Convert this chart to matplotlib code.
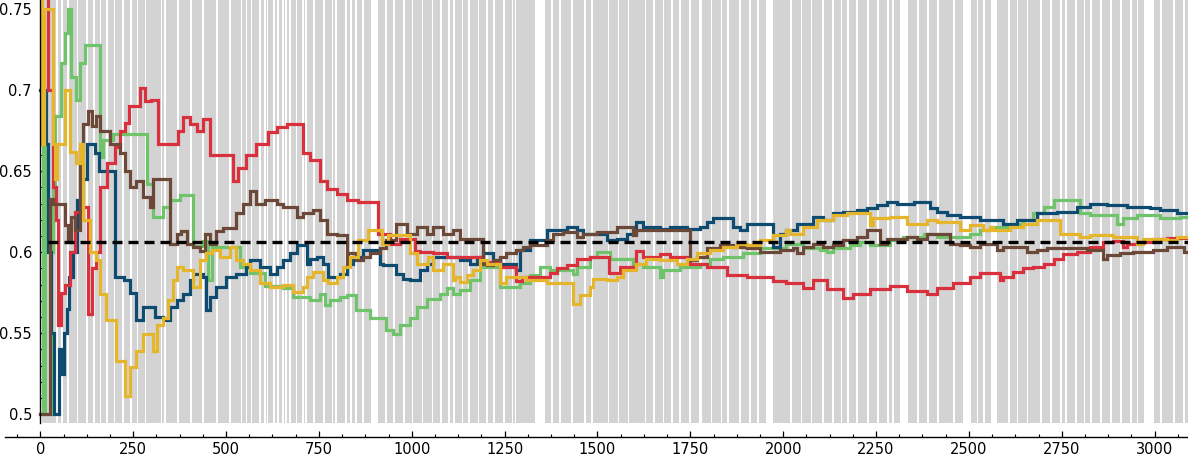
import matplotlib

matplotlib.use("Agg")
import matplotlib.pyplot as plt
from matplotlib.ticker import MultipleLocator, FixedLocator

# ---- data (step series, value holds until next x) ----
red_x = [0, 20, 34, 42, 47, 55, 66, 80, 93, 110, 128, 139, 150, 160, 179, 201, 215, 228, 240, 268, 281, 299,
         317, 371, 385, 403, 421, 439, 457, 519, 533, 555, 582, 614, 636, 663, 708, 726, 753, 771, 798, 825,
         856, 910, 941, 968, 1009, 1022, 1058, 1094, 1193, 1237, 1282, 1296, 1372, 1390, 1417, 1444, 1480,
         1530, 1561, 1605, 1623, 1668, 1695, 1749, 1794, 1848, 1902, 1973, 2009, 2054, 2081, 2117, 2162, 2189,
         2234, 2288, 2333, 2387, 2413, 2458, 2503, 2530, 2584, 2593, 2620, 2647, 2674, 2701, 2728, 2754, 2790,
         2826, 2862, 2889, 2916, 2925, 2961, 2997, 3033, 3090]
red_y = [0.80, 0.70, 0.64, 0.62, 0.555, 0.575, 0.58, 0.60, 0.625, 0.628, 0.562, 0.59, 0.60, 0.64, 0.655, 0.665,
         0.675, 0.68, 0.69, 0.701, 0.693, 0.694,
         0.667, 0.675, 0.6835, 0.679, 0.675, 0.682, 0.660, 0.644, 0.652, 0.660, 0.667, 0.674, 0.677, 0.679,
         0.661, 0.657, 0.644, 0.639, 0.636, 0.632, 0.631, 0.611, 0.605, 0.608, 0.601, 0.600, 0.5995, 0.597,
         0.594, 0.591, 0.582, 0.585, 0.587, 0.590, 0.592, 0.596, 0.597, 0.587, 0.591, 0.601, 0.597, 0.599,
         0.597, 0.593, 0.591, 0.586, 0.585, 0.582, 0.581, 0.578, 0.583, 0.577, 0.572, 0.5745, 0.577, 0.579,
         0.576, 0.574, 0.578, 0.581, 0.585, 0.587, 0.583, 0.585, 0.588, 0.590, 0.591, 0.593, 0.596, 0.599,
         0.600, 0.603, 0.606, 0.607, 0.603, 0.605, 0.606, 0.608, 0.609, 0.609]

green_x = [0, 6, 12, 26, 30, 35, 40, 57, 66, 75, 84, 97, 106, 120, 160, 169, 196, 286, 304, 331, 349, 376,
           412, 439, 452, 461, 537, 564, 605, 654, 681, 726, 753, 766, 780, 807, 826, 851, 887, 932, 950,
           968, 995, 1013, 1040, 1076, 1094, 1112, 1130, 1157, 1184, 1237, 1291, 1318, 1345, 1372, 1435, 1444,
           1480, 1498, 1534, 1596, 1623, 1668, 1677, 1722, 1776, 1803, 1839, 1893, 1937, 2009, 2054, 2099,
           2117, 2135, 2180, 2207, 2234, 2288, 2324, 2378, 2413, 2503, 2530, 2557, 2611, 2647, 2674, 2701,
           2728, 2799, 2826, 2898, 2916, 2952, 3015, 3069, 3090]
green_y = [0.50, 0.667, 0.50, 0.50, 0.60, 0.64, 0.684, 0.717, 0.735, 0.75, 0.708, 0.694, 0.717, 0.728, 0.659,
           0.669, 0.673, 0.642, 0.622, 0.628, 0.632, 0.635, 0.604, 0.607, 0.583, 0.603, 0.591, 0.587, 0.579,
           0.5776, 0.5724, 0.5704, 0.574, 0.5673, 0.5704, 0.5724, 0.5735, 0.5642, 0.5591, 0.5519, 0.5498,
           0.5549, 0.5591, 0.5663, 0.5714, 0.5745, 0.5776, 0.5745, 0.5765, 0.5827, 0.5909, 0.5786, 0.5807,
           0.5858, 0.5909, 0.5889, 0.5868, 0.5909, 0.5971, 0.6002, 0.5961, 0.5930, 0.5909, 0.5848, 0.5889,
           0.5909, 0.5930, 0.5961, 0.5971, 0.5992, 0.6023, 0.6053, 0.6023, 0.6012, 0.6002, 0.6023, 0.6043,
           0.6064, 0.6043, 0.6074, 0.6095, 0.6115, 0.6095, 0.6115, 0.6136, 0.6156, 0.6177, 0.6198, 0.6239,
           0.6280, 0.6321, 0.6239, 0.6228, 0.6177, 0.6208, 0.6228, 0.6208, 0.6218, 0.6218]

blue_x = [0, 15, 22, 30, 38, 50, 57, 65, 72, 78, 88, 100, 112, 125, 148, 158, 201, 225, 241, 259, 277, 308,
          331, 349, 367, 385, 403, 412, 439, 447, 457, 474, 501, 528, 555, 564, 591, 618, 636, 654, 672, 690,
          717, 726, 744, 762, 775, 807, 825, 842, 869, 914, 923, 959, 977, 995, 1022, 1040, 1058, 1130, 1157,
          1175, 1193, 1220, 1237, 1282, 1291, 1318, 1363, 1417, 1444, 1462, 1525, 1552, 1579, 1605, 1623,
          1668, 1695, 1740, 1776, 1794, 1812, 1866, 1884, 1902, 1973, 1991, 2009, 2036, 2081, 2108, 2135,
          2162, 2198, 2225, 2252, 2279, 2306, 2351, 2395, 2413, 2440, 2476, 2530, 2593, 2629, 2683, 2737,
          2790, 2826, 2871, 2925, 2988, 3015, 3060, 3090]
blue_y = [0.70, 0.667, 0.60, 0.55, 0.50, 0.54, 0.525, 0.55, 0.565, 0.585, 0.60, 0.632, 0.645, 0.667, 0.661,
          0.650, 0.585, 0.583, 0.575, 0.558, 0.566, 0.560, 0.558, 0.5663, 0.5704, 0.5745, 0.5827, 0.5868,
          0.5848, 0.5642, 0.5724, 0.5786, 0.5848, 0.5868, 0.5909, 0.5951, 0.5909, 0.5868, 0.5909, 0.5951,
          0.5992, 0.6043, 0.5930, 0.5961, 0.5971, 0.5930, 0.5848, 0.5868, 0.5930, 0.5971, 0.6012, 0.5930,
          0.5920, 0.5868, 0.5837, 0.5827, 0.5889, 0.5930, 0.5971, 0.5951, 0.5930, 0.5971, 0.5992, 0.5951,
          0.5930, 0.5889, 0.6012, 0.6074, 0.6136, 0.6156, 0.6136, 0.6115, 0.6074, 0.6084, 0.6115, 0.6187,
          0.6156, 0.6146, 0.6156, 0.6146, 0.6156, 0.6187, 0.6208, 0.6156, 0.6136, 0.6177, 0.6033, 0.6115,
          0.6136, 0.6177, 0.6218, 0.6198, 0.6239, 0.6249, 0.6259, 0.6270, 0.6290, 0.6310, 0.6300, 0.6310,
          0.6270, 0.6249, 0.6228, 0.6218, 0.6198, 0.6177, 0.6198, 0.6239, 0.6249, 0.6280, 0.6300, 0.6290,
          0.6280, 0.6270, 0.6259, 0.6239, 0.6239]

yellow_x = [0, 5, 10, 35, 39, 46, 66, 80, 95, 106, 115, 133, 151, 160, 178, 205, 228, 241, 259, 277, 304, 313,
            331, 344, 358, 367, 385, 412, 430, 447, 461, 483, 510, 528, 546, 564, 591, 618, 654, 681, 708, 717,
            735, 762, 775, 798, 815, 833, 856, 883, 919, 937, 995, 1013, 1044, 1058, 1085, 1112, 1116, 1130,
            1148, 1166, 1184, 1202, 1237, 1255, 1309, 1363, 1435, 1453, 1480, 1489, 1525, 1552, 1570, 1605,
            1632, 1668, 1713, 1740, 1767, 1803, 1839, 1875, 1902, 1937, 1973, 2009, 2018, 2054, 2090, 2135,
            2171, 2234, 2243, 2288, 2333, 2387, 2413, 2476, 2503, 2539, 2557, 2566, 2611, 2647, 2683, 2746,
            2799, 2826, 2889, 2952, 2970, 3033, 3060, 3090]
yellow_y = [1.0, 0.667, 0.75, 0.667, 0.645, 0.667, 0.70, 0.662, 0.655, 0.667, 0.62, 0.60, 0.595, 0.574, 0.558,
            0.533, 0.511, 0.529, 0.539, 0.5498, 0.539, 0.5549, 0.5591, 0.5704, 0.5827, 0.5909, 0.5889, 0.5786,
            0.5951, 0.5992, 0.6012, 0.5971, 0.6033, 0.5951, 0.5930, 0.5889, 0.5807, 0.5786, 0.5796, 0.5755,
            0.5786, 0.5848, 0.5879, 0.5827, 0.5807, 0.5848, 0.5909, 0.5971, 0.6074, 0.6136, 0.6053, 0.6105,
            0.5992, 0.5930, 0.5971, 0.5889, 0.5930, 0.5827, 0.5848, 0.5817, 0.5858, 0.5889, 0.5951, 0.5930,
            0.5807, 0.5848, 0.5827, 0.5807, 0.5683, 0.5735, 0.5786, 0.5837, 0.5827, 0.5848, 0.5889, 0.5930,
            0.5961, 0.5951, 0.5930, 0.5961, 0.5992, 0.6012, 0.6033, 0.6053, 0.6043, 0.6074, 0.6105, 0.6136,
            0.6115, 0.6156, 0.6198, 0.6228, 0.6239, 0.6167, 0.6208, 0.6218, 0.6177, 0.6198, 0.6187, 0.6136,
            0.6167, 0.6136, 0.6156, 0.6136, 0.6156, 0.6177, 0.6198, 0.6115, 0.6095, 0.6105, 0.6095, 0.6053,
            0.6084, 0.6074, 0.6095, 0.6095]

brown_x = [0, 26, 35, 66, 75, 84, 93, 106, 115, 129, 138, 151, 160, 187, 214, 228, 241, 259, 277, 295, 304,
           349, 367, 380, 394, 412, 430, 443, 457, 474, 492, 528, 546, 564, 582, 604, 636, 654, 690, 708, 735,
           753, 771, 798, 825, 829, 851, 869, 887, 914, 932, 959, 986, 1013, 1040, 1058, 1085, 1112, 1130,
           1193, 1202, 1220, 1237, 1255, 1282, 1300, 1318, 1363, 1381, 1408, 1444, 1462, 1498, 1552, 1596,
           1605, 1749, 1767, 1794, 1830, 1866, 1902, 1937, 1991, 2027, 2036, 2054, 2081, 2108, 2135, 2162,
           2198, 2225, 2261, 2279, 2333, 2360, 2387, 2449, 2476, 2503, 2530, 2575, 2593, 2656, 2683, 2710,
           2817, 2862, 2871, 2907, 2943, 2997, 3033, 3078, 3090]
brown_y = [0.50, 0.633, 0.63, 0.617, 0.606, 0.622, 0.614, 0.664, 0.679, 0.687, 0.678, 0.684, 0.675, 0.667,
           0.661, 0.650, 0.640, 0.644, 0.634, 0.628, 0.645, 0.605, 0.611, 0.613, 0.605, 0.603, 0.601, 0.611,
           0.605, 0.613, 0.615, 0.624, 0.630, 0.638, 0.630, 0.632, 0.630, 0.628, 0.622, 0.624, 0.6259, 0.6198,
           0.6115, 0.6105, 0.5930, 0.5992, 0.5951, 0.5971, 0.5992, 0.6023, 0.6074, 0.6177, 0.6115, 0.6156,
           0.6115, 0.6156, 0.6115, 0.6136, 0.6084, 0.5930, 0.5920, 0.5951, 0.5971, 0.5992, 0.6012, 0.6033,
           0.6043, 0.6074, 0.6115, 0.6126, 0.6095, 0.6115, 0.6126, 0.6156, 0.6105, 0.6136, 0.5951, 0.5971,
           0.6023, 0.6043, 0.6033, 0.6023, 0.6002, 0.6012, 0.6023, 0.5992, 0.6033, 0.6053, 0.6033, 0.6043,
           0.6074, 0.6095, 0.6136, 0.6053, 0.6084, 0.6095, 0.6084, 0.6115, 0.6053, 0.6043, 0.6033, 0.6053,
           0.6012, 0.6033, 0.6002, 0.6012, 0.6023, 0.6012, 0.5961, 0.5981, 0.5992, 0.6002, 0.6012, 0.6033,
           0.6002, 0.6002]

reference_level = 0.6064
reference_start = 20

# background stripes: white gaps between grey bars (data units)
thin_gaps = [45, 58, 75, 100, 125, 145, 162, 180, 200, 222, 245, 262, 283, 326, 335, 370, 405, 438, 476, 511,
             542, 555, 569, 592, 605, 612, 630, 640, 653, 661, 672, 690, 707, 715, 737, 764, 787, 796, 823, 836,
             850, 868, 931, 953, 980, 1002, 1029, 1056, 1079, 1101, 1114, 1137, 1155, 1180, 1203, 1221, 1248,
             1271, 1279, 1378, 1400, 1432, 1467, 1485, 1530, 1557, 1584, 1629, 1652, 1678, 1701, 1723, 1750,
             1807, 1834, 1852, 1883, 1910, 1933, 2022, 2049, 2076, 2107, 2134, 2157, 2175, 2229, 2256, 2283,
             2296, 2363, 2390, 2417, 2460, 2523, 2541, 2608, 2631, 2658, 2694, 2721, 2748, 2761, 2788, 2811,
             2829, 2856, 2883, 2910, 2936, 2954, 3017, 3053, 3080]
wide_gap_start = [890, 1331, 1773, 1955, 2197, 2314, 2483, 2559, 2972]
wide_gap_end = [908, 1358, 1782, 1973, 2202, 2336, 2505, 2577, 2999]
stripe_start, stripe_end = 4, 3092

x_ticks = list(range(0, 3001, 250))
y_ticks = [0.5, 0.55, 0.6, 0.65, 0.7, 0.75]
y_tick_labels = ["0.5", "0.55", "0.6", "0.65", "0.7", "0.75"]

series = [
    (green_x, green_y, "#6fc46b"),
    (blue_x, blue_y, "#0e4b71"),
    (red_x, red_y, "#d8303d"),
    (brown_x, brown_y, "#6c4838"),
    (yellow_x, yellow_y, "#e5b62b"),
]

plt.rcParams.update({"font.family": "DejaVu Sans", "font.size": 10.5})

fig = plt.figure(figsize=(11.88, 4.59), dpi=100)
ax = fig.add_axes([5 / 1188, 36.3 / 459, 1183 / 1188, 422.7 / 459])

# grey stripes = complement of the white gaps
half = 2.2
gaps = sorted([(g - half, g + half) for g in thin_gaps] + list(zip(wide_gap_start, wide_gap_end)))
cur = stripe_start
for g0, g1 in gaps:
    if g0 > cur:
        ax.axvspan(cur, g0, color="#d3d3d3", lw=0, zorder=0)
    cur = max(cur, g1)
if cur < stripe_end:
    ax.axvspan(cur, stripe_end, color="#d3d3d3", lw=0, zorder=0)

for xs, ys, color in series:
    ax.plot(xs, ys, drawstyle="steps-post", color=color, lw=2.3, solid_joinstyle="miter", zorder=3)

ax.hlines(reference_level, reference_start, 3090, color="black", lw=2.4,
          linestyle=(0, (3.0, 1.8)), zorder=4)

ax.set_xlim(-95, 3090)
ax.set_ylim(0.4948, 0.7556)

for side in ("top", "right"):
    ax.spines[side].set_visible(False)
ax.spines["left"].set_position(("data", 0))
ax.spines["left"].set_bounds(0.4948, 0.7556)
ax.spines["bottom"].set_position(("outward", 10))
for side in ("left", "bottom"):
    ax.spines[side].set_linewidth(1.0)
    ax.spines[side].set_zorder(5)

ax.xaxis.set_major_locator(FixedLocator(x_ticks))
ax.xaxis.set_minor_locator(MultipleLocator(62.5))
ax.set_yticks(y_ticks)
ax.set_yticklabels(y_tick_labels)
ax.yaxis.set_minor_locator(MultipleLocator(0.01))
ax.tick_params(axis="x", which="major", direction="in", length=4, width=0.9, pad=4)
ax.tick_params(axis="x", which="minor", direction="in", length=2.5, width=0.8)
ax.tick_params(axis="y", which="major", direction="in", length=4, width=0.9, pad=6)
ax.tick_params(axis="y", which="minor", direction="in", length=2.5, width=0.8)

fig.savefig("out.png", dpi=100)
